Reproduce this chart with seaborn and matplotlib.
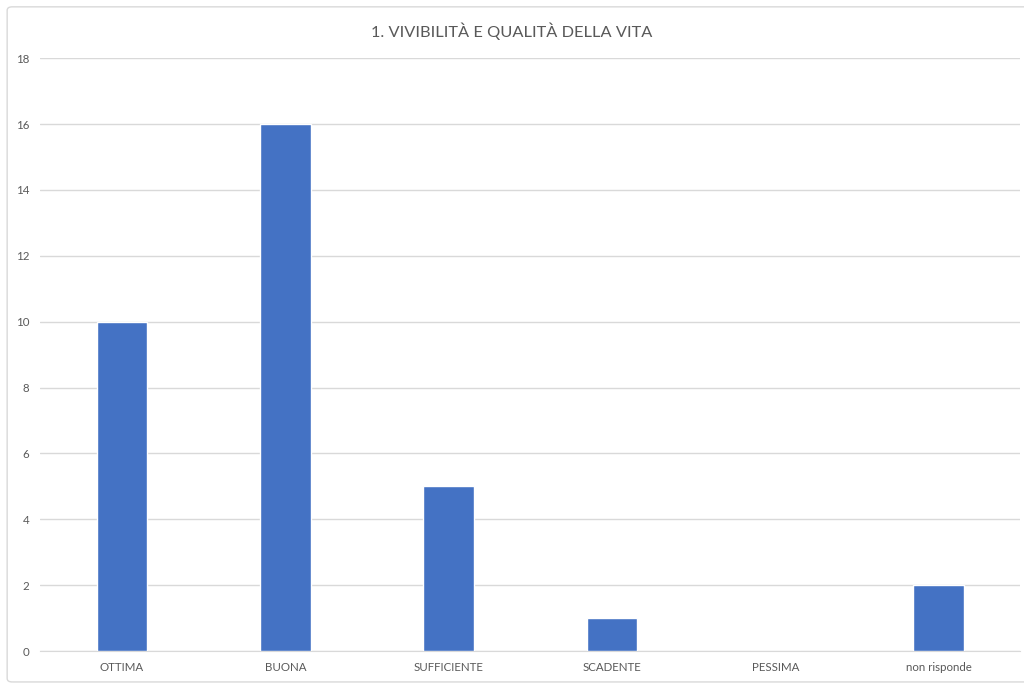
import matplotlib
matplotlib.use("Agg")
import matplotlib.pyplot as plt
import seaborn as sns
import pandas as pd
from matplotlib.patches import FancyBboxPatch

categories = ["OTTIMA", "BUONA", "SUFFICIENTE", "SCADENTE", "PESSIMA", "non risponde"]
values = [10, 16, 5, 1, 0, 2]
y_ticks = [0, 2, 4, 6, 8, 10, 12, 14, 16, 18]
title = "1. VIVIBILITÀ E QUALITÀ DELLA VITA"

df = pd.DataFrame({"cat": categories, "val": values})

sns.set_style("white")
plt.rcParams["font.family"] = ["Lato", "DejaVu Sans"]

fig = plt.figure(figsize=(10.24, 6.84), dpi=100)
ax = fig.add_axes([0.0394, 0.048, 0.957, 0.867])

sns.barplot(data=df, x="cat", y="val", color="#4472C4", width=0.31,
            saturation=1, ax=ax, zorder=3)

ax.set_ylim(0, 18)
ax.set_yticks(y_ticks)
ax.set_xlim(-0.5, len(categories) - 0.5)
ax.yaxis.grid(True, color="#D9D9D9", linewidth=1, zorder=0)
ax.set_axisbelow(True)
for s in ["top", "right", "left"]:
    ax.spines[s].set_visible(False)
ax.spines["bottom"].set_color("#D9D9D9")
ax.tick_params(axis="both", length=0, labelsize=8.3, colors="#595959", pad=8)
ax.tick_params(axis="y", pad=8)
ax.set_xlabel("")
ax.set_ylabel("")

fig.text(0.5, 0.955, title, ha="center", va="center", fontsize=11.8, color="#595959")

border = FancyBboxPatch((0.007, 0.003), 1.0, 0.987, boxstyle="round,pad=0,rounding_size=0.005",
                        transform=fig.transFigure, fill=False, edgecolor="#D9D9D9", linewidth=1)
fig.patches.append(border)

fig.savefig("out.png", dpi=100)
